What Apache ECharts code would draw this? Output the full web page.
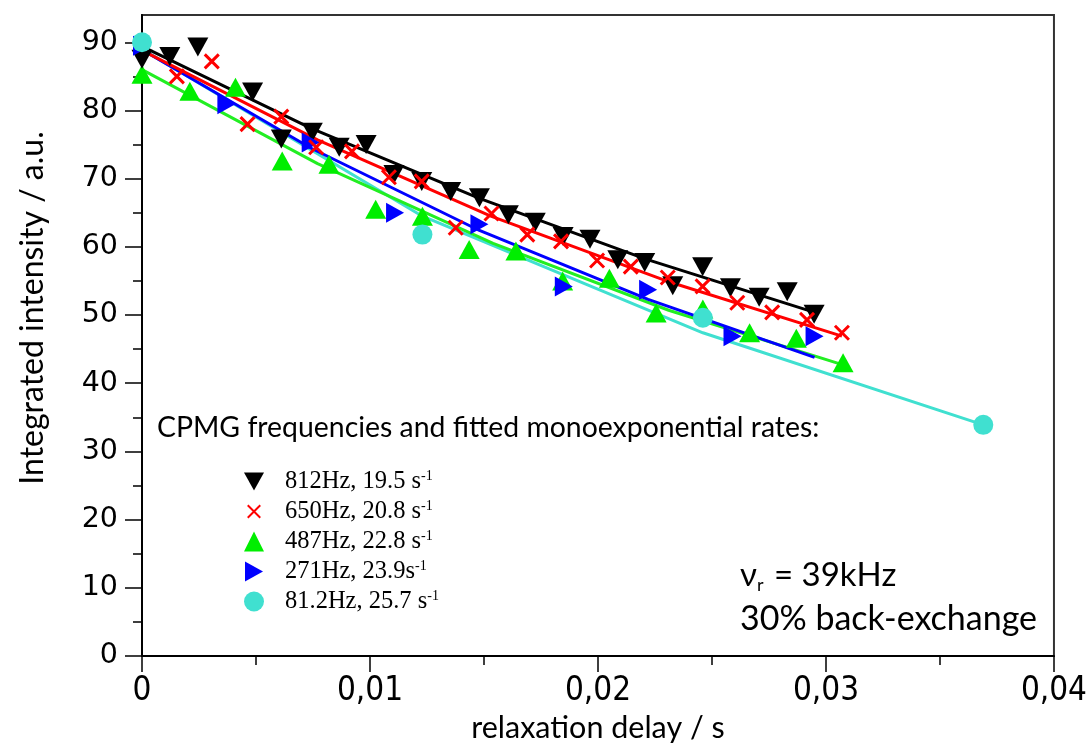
<!DOCTYPE html>
<html>
<head>
<meta charset="utf-8">
<script src="https://cdn.jsdelivr.net/npm/echarts@6/dist/echarts.min.js"></script>
<style>
  html, body { margin: 0; padding: 0; background: #fff; }
  #chart { width: 1090px; height: 751px; }
</style>
</head>
<body>
<div id="chart"></div>
<script>
// Relaxation decays of the integrated intensity for several CPMG frequencies

// 812 Hz
const delay812 = [0, 0.00122, 0.00245, 0.00485, 0.00611, 0.00747, 0.00865, 0.00983, 0.01105, 0.01227, 0.01354, 0.0148, 0.01607, 0.01725, 0.01847, 0.01965, 0.02087, 0.02205, 0.02328, 0.02459, 0.02581, 0.02707, 0.0283, 0.02948];
const int812 = [87.5, 87.9, 89.3, 82.7, 75.8, 76.8, 74.6, 75.0, 70.6, 69.6, 68.1, 67.2, 64.7, 63.6, 61.5, 61.1, 58.1, 57.7, 54.3, 57.1, 54.0, 52.6, 53.4, 50.1];
// 650 Hz
const delay650 = [0.00153, 0.00306, 0.00463, 0.00611, 0.00764, 0.00921, 0.01083, 0.01227, 0.01376, 0.01533, 0.0169, 0.01838, 0.01996, 0.02144, 0.02306, 0.02459, 0.02611, 0.02764, 0.02917, 0.0307];
const int650 = [85.0, 87.2, 78.0, 79.1, 74.6, 74.0, 70.2, 69.6, 62.8, 64.9, 61.8, 60.8, 58.0, 57.1, 55.5, 54.2, 51.8, 50.4, 49.3, 47.4];
// 487 Hz
const delay487 = [0, 0.0021, 0.0041, 0.00615, 0.0082, 0.01025, 0.0123, 0.01435, 0.0164, 0.01845, 0.0205, 0.02255, 0.0246, 0.02665, 0.0287, 0.03075];
const int487 = [85.3, 82.8, 83.4, 72.6, 72.1, 65.5, 64.5, 59.6, 59.4, 55.0, 55.4, 50.3, 50.9, 47.4, 46.6, 43.0];
// 271 Hz
const delay271 = [0, 0.0037, 0.0074, 0.0111, 0.0148, 0.0185, 0.0222, 0.0259, 0.0295];
const int271 = [89.5, 80.9, 75.3, 65.0, 63.3, 54.2, 53.7, 46.9, 46.9];
// 81.2 Hz
const delay81 = [0, 0.0123, 0.0246, 0.0369];
const int81 = [90.0, 61.8, 49.6, 33.9];

// fitted monoexponential decays
const fitDelay812 = [0, 0.0074, 0.0148, 0.0221, 0.0295];
const fit812 = [89.4, 77.4, 67.1, 58.2, 50.4];
const fitDelay650 = [0, 0.0077, 0.0153, 0.023, 0.0307];
const fit650 = [88.8, 75.7, 64.5, 55.0, 46.9];
const fitDelay487 = [0, 0.0077, 0.0154, 0.0231, 0.03075];
const fit487 = [86.0, 72.2, 60.5, 50.7, 42.7];
const fitDelay271 = [0, 0.0074, 0.0148, 0.0222, 0.0295];
const fit271 = [88.9, 74.5, 62.4, 52.3, 43.8];
const fitDelay81 = [0, 0.0123, 0.0246, 0.0369];
const fit81 = [89.0, 64.5, 47.4, 33.9];

// axis ticks
const yMajorTicks = [0, 10, 20, 30, 40, 50, 60, 70, 80, 90];
const yMinorTicks = [5, 15, 25, 35, 45, 55, 65, 75, 85];

// legend entries
const legendTexts = {
  '812Hz': '812Hz, 19.5 s{sup|-1}',
  '650Hz': '650Hz, 20.8 s{sup|-1}',
  '487Hz': '487Hz, 22.8 s{sup|-1}',
  '271Hz': '271Hz, 23.9s{sup|-1}',
  '81.2Hz': '81.2Hz, 25.7 s{sup|-1}'
};

const pairs = (xs, ys) => xs.map((x, i) => [x, ys[i]]);

const SANS = "'Liberation Sans Narrow', 'DejaVu Sans Condensed', Lato, sans-serif";
const TITLE_FONT = "Lato, 'Open Sans', sans-serif";
const SERIF = "'Liberation Serif', 'DejaVu Serif', serif";

// marker shapes
const triDown = 'path://M0,0L20,0L10,18Z';
const triRight = 'path://M0,0L18,10L0,20Z';
const cross = 'path://M0,0L10,10M10,0L0,10';
// same cross with empty margin so the legend icon stays small
const crossLegend = 'path://M-3,-3M0,0L10,10M10,0L0,10M13,13';

const chart = echarts.init(document.getElementById('chart'));

function fitLine(name, xs, ys, color) {
  return {
    name: name, type: 'line', data: pairs(xs, ys),
    symbol: 'none', smooth: false, silent: true, z: 2,
    lineStyle: { color: color, width: 3 }
  };
}

chart.setOption({
  animation: false,
  backgroundColor: '#fff',
  grid: {
    left: 142, right: 33, top: 15, bottom: 95,
    show: true, borderColor: '#333', borderWidth: 2, backgroundColor: 'transparent'
  },
  xAxis: {
    type: 'value', min: 0, max: 0.04, interval: 0.01,
    name: 'relaxation delay / s', nameLocation: 'middle', nameGap: 51,
    nameTextStyle: { fontFamily: TITLE_FONT, fontSize: 30.5, color: '#000' },
    axisLine: { show: true, lineStyle: { color: '#000', width: 2 } },
    axisTick: { show: true, length: 16, lineStyle: { color: '#000', width: 1.5 } },
    minorTick: { show: true, splitNumber: 2, length: 9, lineStyle: { color: '#000', width: 1.5 } },
    splitLine: { show: false },
    axisLabel: {
      fontFamily: SANS, fontSize: 33, color: '#000', margin: 19,
      formatter: v => v === 0 ? '0' : v.toFixed(2).replace('.', ',')
    }
  },
  yAxis: [
    {
      type: 'value', min: 0, max: 94,
      axisLine: { show: true, lineStyle: { color: '#000', width: 2 } },
      axisTick: { show: true, length: 17, customValues: yMajorTicks, lineStyle: { color: '#000', width: 1.5 } },
      splitLine: { show: false },
      axisLabel: {
        customValues: yMajorTicks,
        fontFamily: "'DejaVu Sans', sans-serif", fontSize: 28.5, color: '#000', margin: 24
      }
    },
    {
      type: 'value', min: 0, max: 94, position: 'left',
      axisLine: { show: false },
      axisTick: { show: true, length: 9, customValues: yMinorTicks, lineStyle: { color: '#000', width: 1.5 } },
      splitLine: { show: false },
      axisLabel: { show: false }
    }
  ],
  legend: {
    data: [
      { name: '812Hz' },
      { name: '650Hz', icon: crossLegend },
      { name: '487Hz' },
      { name: '271Hz' },
      { name: '81.2Hz' }
    ],
    orient: 'vertical', left: 238, top: 464,
    itemWidth: 20, itemHeight: 20, itemGap: 5,
    formatter: name => legendTexts[name],
    textStyle: {
      fontFamily: SERIF, fontSize: 24.5, lineHeight: 24, color: '#000',
      padding: [0, 0, 0, 16],
      rich: {
        sup: { fontFamily: SERIF, fontSize: 14, lineHeight: 14, color: '#000', verticalAlign: 'top' }
      }
    },
    selectedMode: false
  },
  graphic: [
    {
      type: 'text', left: 157, top: 414,
      style: {
        text: 'CPMG frequencies and fitted monoexponential rates:',
        font: "28.4px Lato, 'Open Sans', sans-serif", fill: '#000'
      }
    },
    {
      type: 'text', left: 740, top: 559,
      style: {
        text: '{a|ν}{sub|r}{a| = 39kHz}',
        fill: '#000',
        rich: {
          a: { fontFamily: TITLE_FONT, fontSize: 33, lineHeight: 38, color: '#000' },
          sub: { fontFamily: TITLE_FONT, fontSize: 18, lineHeight: 18, color: '#000', verticalAlign: 'bottom', padding: [0, 2, 0, 0] }
        }
      }
    },
    {
      type: 'text', left: 740, top: 602,
      style: {
        text: '30% back-exchange',
        font: "34px Lato, 'Open Sans', sans-serif", fill: '#000'
      }
    },
    {
      type: 'text', x: 33, y: 308, rotation: Math.PI / 2,
      style: {
        text: 'Integrated intensity / a.u.',
        font: "32px Lato, 'Open Sans', sans-serif", fill: '#000',
        align: 'center', verticalAlign: 'middle'
      }
    }
  ],
  series: [
    fitLine('fit 81.2Hz', fitDelay81, fit81, '#40e0d0'),
    fitLine('fit 487Hz', fitDelay487, fit487, '#22ee22'),
    fitLine('fit 271Hz', fitDelay271, fit271, '#0000ff'),
    fitLine('fit 650Hz', fitDelay650, fit650, '#ff0000'),
    fitLine('fit 812Hz', fitDelay812, fit812, '#000000'),
    {
      name: '487Hz', type: 'scatter', data: pairs(delay487, int487), z: 3,
      symbol: 'triangle', symbolSize: [21, 19],
      itemStyle: { color: '#00ee00', opacity: 1 }
    },
    {
      name: '812Hz', type: 'scatter', data: pairs(delay812, int812), z: 3,
      symbol: triDown, symbolSize: [21, 19],
      itemStyle: { color: '#000000', opacity: 1 }
    },
    {
      name: '271Hz', type: 'scatter', data: pairs(delay271, int271), z: 3,
      symbol: triRight, symbolSize: [18, 20],
      itemStyle: { color: '#0000ff', opacity: 1 }
    },
    {
      name: '81.2Hz', type: 'scatter', data: pairs(delay81, int81), z: 3,
      symbol: 'circle', symbolSize: 20,
      itemStyle: { color: '#40e0d0', opacity: 1 }
    },
    {
      name: '650Hz', type: 'scatter', data: pairs(delay650, int650), z: 3,
      symbol: cross, symbolSize: 14,
      itemStyle: { color: 'transparent', borderColor: '#ff0000', borderWidth: 3, opacity: 1 }
    }
  ]
});
</script>
</body>
</html>
